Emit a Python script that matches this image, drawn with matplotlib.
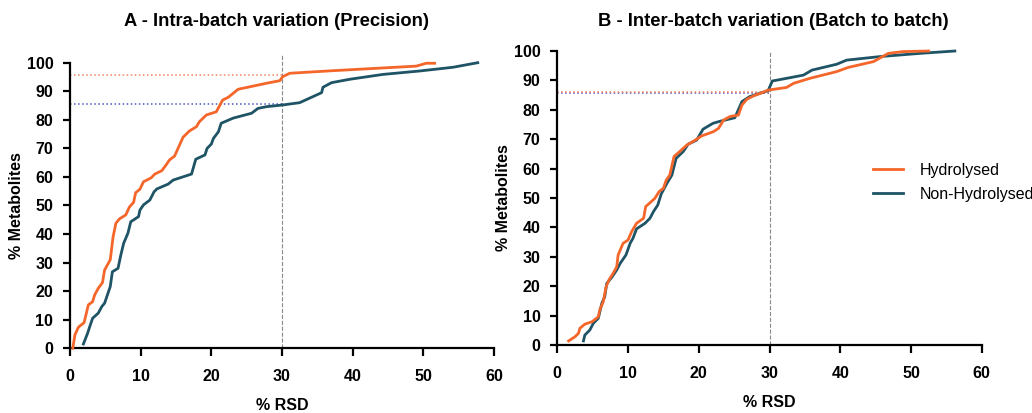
import numpy as np
import matplotlib
matplotlib.use('Agg')
from matplotlib import pyplot as plt
from matplotlib import rcParams

rcParams['font.family'] = ['Liberation Sans', 'DejaVu Sans']
rcParams['xtick.direction'] = 'out'
rcParams['ytick.direction'] = 'out'

# A - intra-batch (precision)
a_hyd_x = [0.4, 0.7, 1.2, 2.0, 2.6, 3.2, 3.5, 4.0, 4.6, 4.9, 5.7, 6.1, 6.5, 7.0, 7.9, 8.4, 9.0, 9.3,
           9.9, 10.4, 11.5, 12.0, 13.0, 13.6, 14.1, 14.8, 16.0, 16.9, 17.9, 18.3, 19.3, 20.7, 21.6,
           22.4, 23.8, 25.9, 27.8, 29.7, 30.1, 31.1, 37.2, 49.0, 50.4, 51.6]
a_hyd_y = [0, 4.7, 7.4, 9.0, 15.2, 16.3, 18.7, 21.0, 23.0, 27.4, 31.0, 39.0, 43.8, 45.3, 46.7, 49.4,
           51.1, 54.5, 55.7, 58.3, 59.7, 61.0, 62.2, 64.2, 66.0, 67.3, 73.9, 76.1, 77.6, 79.3, 81.7,
           82.8, 86.9, 87.9, 90.7, 91.8, 92.8, 93.7, 95.1, 96.3, 97.2, 98.8, 99.8, 99.8]
a_non_x = [1.9, 2.5, 2.8, 3.2, 4.0, 4.5, 4.9, 5.7, 6.0, 6.8, 7.2, 7.6, 8.2, 8.6, 9.7, 9.9, 10.4, 11.3,
           11.9, 12.3, 13.9, 14.6, 17.2, 17.8, 19.1, 19.4, 20.0, 20.3, 21.0, 21.4, 23.1, 25.7, 26.6,
           27.8, 30.1, 32.5, 35.6, 35.8, 37.0, 39.6, 44.3, 49.5, 54.2, 57.7]
a_non_y = [1.5, 5.3, 7.6, 10.5, 12.3, 14.6, 15.8, 21.6, 26.8, 28.0, 32.7, 36.8, 40.3, 44.3, 46.1,
           48.4, 50.2, 51.9, 54.8, 55.8, 57.5, 58.9, 61.0, 66.2, 67.7, 70.0, 71.5, 73.5, 75.8, 78.8,
           80.6, 82.3, 84.0, 84.6, 85.2, 86.0, 89.5, 91.4, 93.0, 94.2, 95.9, 97.1, 98.4, 100.0]

# B - inter-batch (batch to batch)
b_hyd_x = [1.6, 2.5, 3.0, 3.2, 3.9, 4.9, 5.8, 6.0, 6.5, 6.9, 7.3, 7.9, 8.4, 8.6, 9.3, 10.0, 10.5,
           11.2, 12.2, 12.5, 13.3, 13.8, 14.4, 15.0, 15.4, 15.9, 16.5, 17.3, 18.3, 19.5, 20.4, 22.1,
           22.8, 23.5, 24.4, 25.6, 26.1, 26.8, 27.7, 28.7, 29.8, 32.4, 33.4, 35.7, 39.5, 41.1, 44.7,
           46.8, 48.9, 52.5]
b_hyd_y = [1.4, 2.8, 4.0, 5.7, 7.1, 7.9, 9.6, 11.9, 14.7, 19.8, 22.1, 24.4, 26.6, 30.6, 34.6, 35.7,
           38.5, 41.4, 43.1, 47.1, 48.8, 49.9, 52.2, 53.3, 56.1, 57.8, 64.1, 65.8, 68.0, 69.7, 71.1,
           72.6, 73.7, 76.5, 77.7, 78.2, 81.6, 83.6, 84.7, 85.6, 86.7, 87.6, 89.0, 90.7, 93.0, 94.4,
           96.4, 99.2, 99.8, 100.0]
b_non_x = [3.7, 3.9, 4.6, 5.1, 5.8, 6.3, 6.7, 7.0, 7.7, 8.4, 8.9, 9.7, 10.3, 10.7, 11.2, 12.4, 13.1,
           13.6, 14.2, 14.7, 15.5, 16.2, 16.8, 17.8, 18.5, 19.7, 20.6, 22.0, 23.0, 25.1, 26.1, 27.2,
           29.8, 30.4, 32.4, 34.8, 36.0, 39.5, 40.9, 45.6, 51.3, 56.2]
b_non_y = [1.4, 3.4, 5.1, 7.4, 9.1, 14.2, 16.4, 21.0, 23.0, 25.5, 27.8, 30.6, 34.6, 36.3, 39.5, 41.4,
           43.1, 45.4, 47.6, 51.4, 55.0, 57.8, 63.5, 65.8, 68.3, 69.7, 73.4, 75.4, 76.1, 77.3, 82.8,
           84.5, 86.5, 89.8, 90.7, 91.8, 93.5, 95.5, 96.9, 98.1, 99.2, 100.0]

# % metabolites below 30 % RSD
a_cut = [95.7, 85.4]
b_cut = [86.2, 85.7]
rsd_cut = 30

orange = '#F4662A'
teal = '#1E5465'

fig = plt.figure(figsize=(10.32, 4.13), dpi=100)
axA = fig.add_axes([0.0678, 0.1567, 0.4109, 0.6915])
axB = fig.add_axes([0.5400, 0.1646, 0.4113, 0.7119])


def style(ax, title, title_xy):
    ax.set_xlim(0, 60)
    ax.set_ylim(0, 100)
    ax.spines['top'].set_visible(False)
    ax.spines['right'].set_visible(False)
    ax.spines['left'].set_linewidth(1.6)
    ax.spines['bottom'].set_linewidth(1.6)
    ax.set_xticks(range(0, 61, 10))
    ax.set_yticks(range(0, 101, 10))
    ax.tick_params(axis='x', length=6, width=1.6, labelsize=11.5, pad=9)
    ax.tick_params(axis='y', length=5, width=1.6, labelsize=11.5, pad=7)
    for lab in ax.get_xticklabels() + ax.get_yticklabels():
        lab.set_fontweight('bold')
    ax.set_xlabel('% RSD', fontsize=11.5, fontweight='bold', labelpad=10)
    ax.set_ylabel('% Metabolites', fontsize=11.5, fontweight='bold', labelpad=2)
    fig.text(title_xy[0], title_xy[1], title, fontsize=13.2, fontweight='bold',
             ha='center', va='center')


# panel A
axA.plot([0, rsd_cut], [a_cut[0]] * 2, color='#F4845F', ls=':', lw=1.1, zorder=1)
axA.plot([0, rsd_cut], [a_cut[1]] * 2, color='#4A55C0', ls=':', lw=1.1, zorder=1)
axA.plot([rsd_cut, rsd_cut], [0, 103], color='#888888', ls='--', lw=0.8, clip_on=False, zorder=1)
axA.plot(a_hyd_x, a_hyd_y, color=orange, lw=2.0, zorder=3, clip_on=False)
axA.plot(a_non_x, a_non_y, color=teal, lw=2.0, zorder=2, clip_on=False)
style(axA, 'A - Intra-batch variation (Precision)', (277 / 1032, 1 - 21 / 413))

# panel B
axB.plot([0, rsd_cut], [b_cut[1]] * 2, color='#4A55C0', ls=':', lw=1.1, zorder=1)
axB.plot([0, rsd_cut], [b_cut[0]] * 2, color='#F4845F', ls=':', lw=1.1, zorder=1)
axB.plot([rsd_cut, rsd_cut], [0, 99.5], color='#888888', ls='--', lw=0.8, clip_on=False, zorder=1)
axB.plot(b_hyd_x, b_hyd_y, color=orange, lw=2.0, zorder=3, clip_on=False, label='Hydrolysed')
axB.plot(b_non_x, b_non_y, color=teal, lw=2.0, zorder=2, clip_on=False, label='Non-Hydrolysed')
style(axB, 'B - Inter-batch variation (Batch to batch)', (773 / 1032, 1 - 22 / 413))

axB.legend(loc='center left', bbox_to_anchor=(0.744, 0.553), frameon=False, fontsize=11.5,
           handlelength=1.9, handletextpad=1.0, labelspacing=0.55,
           borderpad=0, borderaxespad=0)

fig.savefig('out.png', dpi=100)
plt.close()
